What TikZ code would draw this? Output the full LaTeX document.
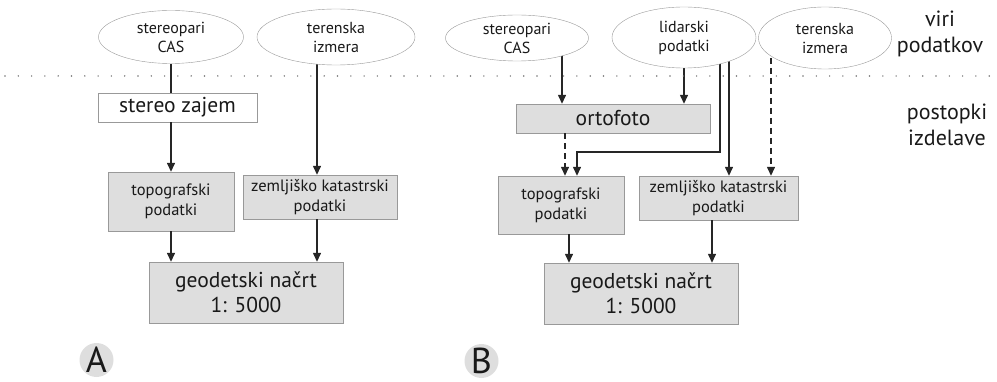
\documentclass[tikz,border=0pt]{standalone}
\usepackage{fontspec}
\setmainfont{PT Sans}
\usetikzlibrary{shapes.geometric,arrows.meta,backgrounds}

\begin{document}
\begin{tikzpicture}
  [x=1pt,y=-1pt,
   every node/.style={text=black!90},
   src/.style={ellipse,draw=black!40,fill=white,inner sep=0pt,align=center,font=\fontsize{16}{19}\selectfont},
   box/.style={rectangle,draw=black!40,fill=black!13,inner sep=0pt,align=center,font=\fontsize{16.5}{20}\selectfont},
   bigbox/.style={box,font=\fontsize{21.5}{25}\selectfont},
   tag/.style={circle,fill=black!13,minimum size=34pt,inner sep=0pt,text height=25pt,text depth=0pt,font=\fontsize{36}{36}\selectfont},
   side/.style={align=center,font=\fontsize{22}{26}\selectfont},
   arr/.style={-{Triangle[length=9pt,width=8pt]},line width=1.4pt,draw=black!85},
   dsh/.style={arr,dash pattern=on 6pt off 4pt}]
  \useasboundingbox (0,0) rectangle (997,382);

  % A
  \node[src,minimum width=145pt,minimum height=53pt] (casA) at (171,37) {stereopari\\CAS};
  \node[src,minimum width=158pt,minimum height=56pt] (terA) at (336,37) {terenska\\izmera};
  \node[bigbox,fill=white,minimum width=159pt,minimum height=29pt] (zajA) at (177.5,107.5) {stereo zajem};
  \node[box,minimum width=126pt,minimum height=59pt] (topoA) at (171,201.5) {topografski\\podatki};
  \node[box,minimum width=154pt,minimum height=44pt] (zemA) at (320,197) {zemljiško katastrski\\podatki};
  \node[bigbox,minimum width=194pt,minimum height=61pt] (geoA) at (246,292.5) {geodetski načrt\\1: 5000};
  \node[tag] (tagA) at (96.5,360) {A};

  % B
  \node[src,minimum width=143pt,minimum height=46pt] (casB) at (517,38) {stereopari\\CAS};
  \node[src,minimum width=144pt,minimum height=61pt] (lidB) at (684,37.5) {lidarski\\podatki};
  \node[src,minimum width=133pt,minimum height=62pt] (terB) at (825,38) {terenska\\izmera};
  \node[bigbox,minimum width=194pt,minimum height=29pt] (ortB) at (613,118.5) {ortofoto};
  \node[box,minimum width=126pt,minimum height=58pt] (topoB) at (561,205) {topografski\\podatki};
  \node[box,minimum width=159pt,minimum height=44pt] (zemB) at (718.5,198) {zemljiško katastrski\\podatki};
  \node[bigbox,minimum width=194pt,minimum height=61pt] (geoB) at (641,293.5) {geodetski načrt\\1: 5000};
  \node[tag] (tagB) at (481.5,361) {B};

  \node[side] (viri) at (940,34) {viri\\podatkov};
  \node[side] (post) at (947,125) {postopki\\izdelave};
  \coordinate (bend) at (720,152);

  \draw[black!55,line width=1.6pt,line cap=round,dash pattern=on 0pt off 13.3pt] (5,76) -- (997,76);

  \begin{scope}[on background layer]
    \draw[line width=1.4pt,black!85] (casA) -- (casA |- zajA.north);
    \draw[arr] ([xshift=-19pt]terA.center) -- ([xshift=-19pt]terA.center |- zemA.north);
    \draw[arr] ([xshift=45pt]casB.center) -- ([xshift=45pt]casB.center |- ortB.north);
    \draw[arr] (lidB) -- (lidB |- ortB.north);
    \draw[arr] (lidB -| bend) -- (bend) -| ([xshift=16pt]topoB.north);
    \draw[arr] ([xshift=45pt]lidB.center) -- ([xshift=45pt]lidB.center |- zemB.north);
    \draw[dsh] ([xshift=-54pt]terB.center) -- ([xshift=-54pt]terB.center |- zemB.north);
  \end{scope}

  \draw[arr] (zajA.south -| topoA) -- (topoA.north);
  \draw[dsh] ([xshift=4pt]topoB.north |- ortB.south) -- ([xshift=4pt]topoB.north);
  \foreach \from/\to/\dx in {topoA/geoA/0pt,zemA/geoA/-3pt,topoB/geoB/8pt,zemB/geoB/-6.5pt}
    \draw[arr] ([xshift=\dx]\from.south) -- ([xshift=\dx]\from.south |- \to.north);

\end{tikzpicture}
\end{document}
